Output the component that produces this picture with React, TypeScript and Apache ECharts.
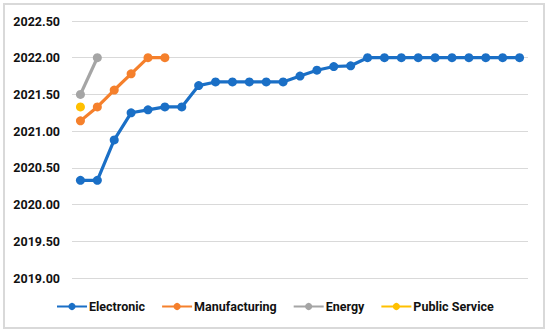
import React, { useEffect, useRef } from "react";
import * as echarts from "echarts";

const categories: string[] = Array.from({ length: 27 }, (_, i) => String(i + 1));

const electronic: number[] = [
  2020.33, 2020.33, 2020.88, 2021.25, 2021.29, 2021.33, 2021.33, 2021.62,
  2021.67, 2021.67, 2021.67, 2021.67, 2021.67, 2021.75, 2021.83, 2021.88,
  2021.89, 2022.0, 2022.0, 2022.0, 2022.0, 2022.0, 2022.0, 2022.0, 2022.0,
  2022.0, 2022.0,
];
const manufacturing: number[] = [2021.14, 2021.33, 2021.56, 2021.78, 2022.0, 2022.0];
const energy: number[] = [2021.5, 2022.0];
const publicService: number[] = [2021.33];

const seriesNames = ["Electronic", "Manufacturing", "Energy", "Public Service"];
const seriesColors = ["#1a6fc6", "#f5802c", "#a5a5a5", "#ffc000"];
const seriesData = [electronic, manufacturing, energy, publicService];

export default function App() {
  const ref = useRef<HTMLDivElement>(null);
  useEffect(() => {
    if (!ref.current) return;
    const chart = echarts.init(ref.current, undefined, { renderer: "svg" });
    chart.setOption({
      animation: false,
      backgroundColor: "#ffffff",
      grid: { left: 72, right: 22, top: 21, bottom: 57, containLabel: false },
      graphic: [
        {
          type: "rect",
          shape: { x: 4, y: 4, width: 540, height: 324 },
          style: { fill: "none", stroke: "#d9d9d9", lineWidth: 2 },
          silent: true,
        },
      ],
      legend: {
        top: 295,
        left: 51,
        itemWidth: 30,
        itemHeight: 9,
        itemGap: 16,
        textStyle: {
          fontFamily: "Roboto, sans-serif",
          fontWeight: "bold",
          fontSize: 12.5,
          color: "#111",
          padding: [0, 0, 0, -3],
        },
        data: seriesNames,
      },
      xAxis: {
        type: "category",
        data: categories,
        boundaryGap: true,
        axisLine: { show: false },
        axisTick: { show: false },
        axisLabel: { show: false },
      },
      yAxis: {
        type: "value",
        min: 2019,
        max: 2022.5,
        interval: 0.5,
        axisLine: { show: false },
        axisTick: { show: false },
        splitLine: { lineStyle: { color: "#d9d9d9", width: 1 } },
        axisLabel: {
          formatter: (v: number) => v.toFixed(2),
          fontFamily: "Roboto, sans-serif",
          fontWeight: "bold",
          fontSize: 12.5,
          color: "#111",
          margin: 12,
        },
      },
      series: seriesData.map((d, i) => ({
        name: seriesNames[i],
        type: "line",
        data: d,
        symbol: "circle",
        symbolSize: 9,
        color: seriesColors[i],
        lineStyle: { width: 3.2, color: seriesColors[i] },
        itemStyle: { color: seriesColors[i] },
      })),
    });
    return () => chart.dispose();
  }, []);
  return (
    <div
      ref={ref}
      style={{ position: "fixed", left: 0, top: 0, width: 550, height: 335 }}
    />
  );
}
